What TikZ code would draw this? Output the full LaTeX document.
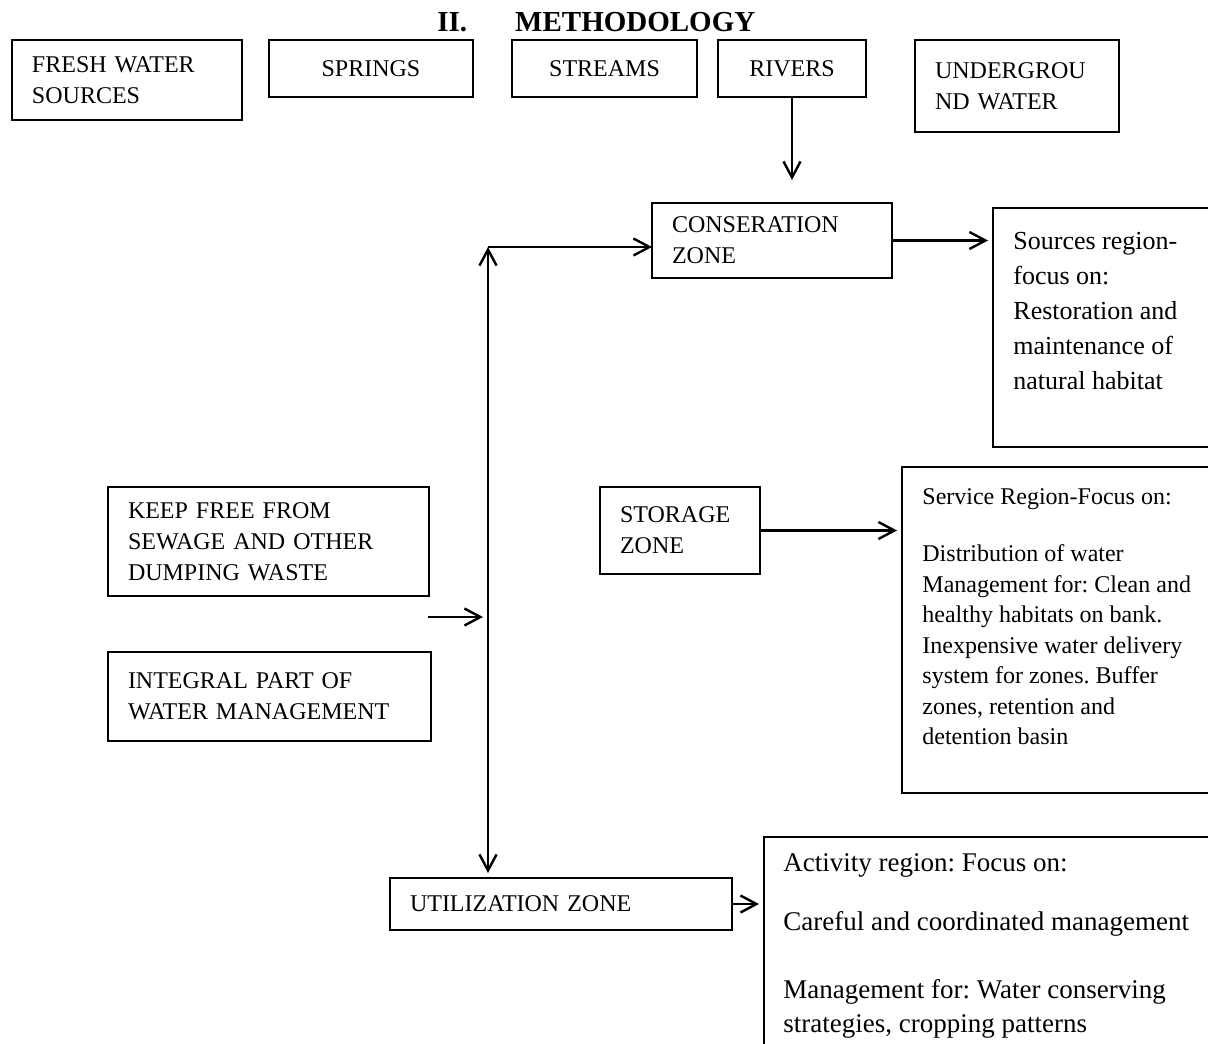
\documentclass[tikz,border=0pt]{standalone}
\usepackage{fontspec}
\setmainfont{Liberation Serif}
\usetikzlibrary{positioning, arrows.meta}
\frenchspacing

\tikzset{
  box/.style={draw, line width=0.6pt, anchor=north west, outer sep=0pt, inner xsep=10pt, inner ysep=2pt, align=left, font=\fontsize{12}{15.5}\selectfont},
  mid/.style={box, align=center},
  frame/.style={draw, line width=0.6pt, anchor=north west, outer sep=0pt, inner sep=0pt},
  note/.style={anchor=north west, inner sep=0pt, align=left}
}

\begin{document}
\begin{tikzpicture}[x=1pt, y=-1pt, >={Straight Barb[length=8pt, width=8.5pt]}, shorten >=0pt]
    \useasboundingbox (0,0) rectangle (604,521.5);

    \node[anchor=base west, inner sep=0pt, font=\fontsize{14.5}{17}\selectfont\bfseries] (title) at (218.5,16) {II.\hspace{24pt}METHODOLOGY};

    % Row of water sources
    \node[box, text width=95pt, minimum height=40pt] (fresh) at (6,20) {FRESH WATER\\SOURCES};
    \node[mid, text width=82pt, minimum height=28.5pt, right=13.5pt of fresh.north east, anchor=north west] (springs) {SPRINGS};
    \node[mid, text width=72.5pt, minimum height=28.5pt, right=19.5pt of springs.north east, anchor=north west] (streams) {STREAMS};
    \node[mid, text width=54pt, minimum height=28.5pt, right=10.5pt of streams.north east, anchor=north west] (rivers) {RIVERS};
    \node[box, text width=82pt, minimum height=46pt, right=24.5pt of rivers.north east, anchor=north west] (under) {UNDERGROU\\ND WATER};
    \coordinate (rivend) at (396,90);

    % Conservation zone and its region
    \node[box, text width=100pt, minimum height=37.5pt] (cons) at (326,101.5) {CONSERATION\\ZONE};
    \node[frame, minimum width=120pt, minimum height=119.5pt] (src) at (496.5,104) {};
    \node[note, font=\fontsize{13}{17.5}\selectfont] (srctxt) at ([shift={(10,11.7)}]src.north west)
        {Sources region-\\focus on:\\Restoration and\\maintenance of\\natural habitat};

    % Left hand notes
    \node[box, text width=140.5pt, minimum height=54.5pt] (keep) at (54,243.5) {KEEP FREE FROM\\SEWAGE AND OTHER\\DUMPING WASTE};
    \node[box, text width=141.5pt, minimum height=44.5pt] (integ) at (54,326) {INTEGRAL PART OF\\WATER MANAGEMENT};
    \coordinate (feed) at (214,308.5);

    % Storage zone and its region
    \node[box, text width=60pt, minimum height=43.5pt] (stor) at (300,243.5) {STORAGE\\ZONE};
    \node[frame, minimum width=160pt, minimum height=163pt] (serv) at (451,233.5) {};
    \node[note, font=\fontsize{12}{15.25}\selectfont] (servtxt) at ([shift={(10,10.5)}]serv.north west)
        {Service Region-Focus on:\\[13.5pt]Distribution of water\\Management for: Clean and\\healthy habitats on bank.\\Inexpensive water delivery\\system for zones. Buffer\\zones, retention and\\detention basin};

    % Utilization zone and its region
    \node[box, text width=151pt, minimum height=26pt] (util) at (195,439) {UTILIZATION ZONE};
    \node[frame, minimum width=230pt, minimum height=110pt] (act) at (382,418.5) {};
    \node[note, font=\fontsize{13.5}{17}\selectfont] (acttxt) at ([shift={(9.5,8.3)}]act.north west)
        {Activity region: Focus on:\\[12.5pt]Careful and coordinated management\\[17pt]Management for: Water conserving\\strategies, cropping patterns};

    % Spine joining the zones
    \coordinate (top) at (244,123.5);

    \path[->, line width=1.2pt]
    (rivers.south) edge (rivend)
    (top) edge (top -| cons.west)
    (cons.east) edge [shorten >=2.5pt] (cons.east -| src.west)
    (feed) edge [shorten >=2.5pt] (feed -| top)
    (stor.east) edge [shorten >=2.5pt] (stor.east -| serv.west)
    (util.east) edge [shorten >=2.5pt] (util.east -| act.west);
    \draw[<->, line width=1.2pt, shorten >=2.5pt] (top) -- (top |- util.north);
\end{tikzpicture}
\end{document}
